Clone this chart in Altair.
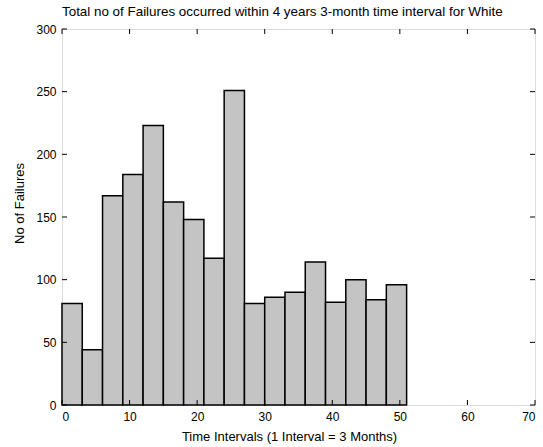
import altair as alt
import pandas as pd

# Histogram of failures per 3-month interval (bins of width 3)
bin_starts = [0, 3, 6, 9, 12, 15, 18, 21, 24, 27, 30, 33, 36, 39, 42, 45, 48]
bin_width = 3
failures = [81, 44, 167, 184, 223, 162, 148, 117, 251, 81, 86, 90, 114, 82, 100, 84, 96]

x_ticks = [0, 10, 20, 30, 40, 50, 60, 70]
y_ticks = [0, 50, 100, 150, 200, 250, 300]

title_text = "Total no of Failures occurred within 4 years 3-month time interval for White"
x_title = "Time Intervals (1 Interval = 3 Months)"
y_title = "No of Failures"

FONT = "Liberation Sans"
W, H = 473, 376
TICK = 5

df = pd.DataFrame({
    "start": bin_starts,
    "end": [s + bin_width for s in bin_starts],
    "count": failures,
})
xt = pd.DataFrame({"v": x_ticks})
yt = pd.DataFrame({"v": y_ticks})

xscale = alt.Scale(domain=[0, 70], nice=False, zero=False)
yscale = alt.Scale(domain=[0, 300], nice=False)

axis_common = dict(
    domain=False,
    ticks=False,
    grid=False,
    labelFont=FONT,
    labelFontSize=12,
    labelColor="black",
    titleFont=FONT,
    titleFontSize=13,
    titleFontWeight="normal",
    titleColor="black",
)

bars = alt.Chart(df).mark_bar(
    fill="#c4c4c4", stroke="black", strokeWidth=1.5
).encode(
    x=alt.X("start:Q", scale=xscale,
            axis=alt.Axis(values=x_ticks, title=x_title, labelPadding=6,
                          titleX=227, titleY=31, titleBaseline="middle",
                          titleAlign="center", **axis_common)),
    x2="end:Q",
    y=alt.Y("count:Q", scale=yscale,
            axis=alt.Axis(values=y_ticks, title=y_title, labelPadding=6,
                          titleX=-43, titleY=174, titleAngle=270,
                          titleBaseline="middle", titleAlign="center",
                          **axis_common)),
    y2=alt.datum(0),
)

# Inward tick marks on all four sides of the box
xtick_bottom = alt.Chart(xt).mark_rule(color="black", strokeWidth=1).encode(
    x=alt.X("v:Q", scale=xscale), y=alt.value(H), y2=alt.value(H - TICK))
xtick_top = alt.Chart(xt).mark_rule(color="black", strokeWidth=1).encode(
    x=alt.X("v:Q", scale=xscale), y=alt.value(0), y2=alt.value(TICK))
ytick_left = alt.Chart(yt).mark_rule(color="black", strokeWidth=1).encode(
    y=alt.Y("v:Q", scale=yscale), x=alt.value(0), x2=alt.value(TICK))
ytick_right = alt.Chart(yt).mark_rule(color="black", strokeWidth=1).encode(
    y=alt.Y("v:Q", scale=yscale), x=alt.value(W), x2=alt.value(W - TICK))

chart = alt.layer(
    bars, xtick_bottom, xtick_top, ytick_left, ytick_right
).properties(
    width=W,
    height=H,
    title=alt.TitleParams(
        title_text, font=FONT, fontSize=13.4, fontWeight="normal",
        color="black", anchor="start", frame="group", offset=5,
    ),
    autosize=alt.AutoSizeParams(type="none"),
    padding={"left": 62, "top": 29, "right": 8, "bottom": 42},
).configure_view(
    stroke="black", strokeWidth=1.2
).configure(
    background="white"
)

chart.save("out.html", embed_options={"renderer": "svg", "actions": False})
